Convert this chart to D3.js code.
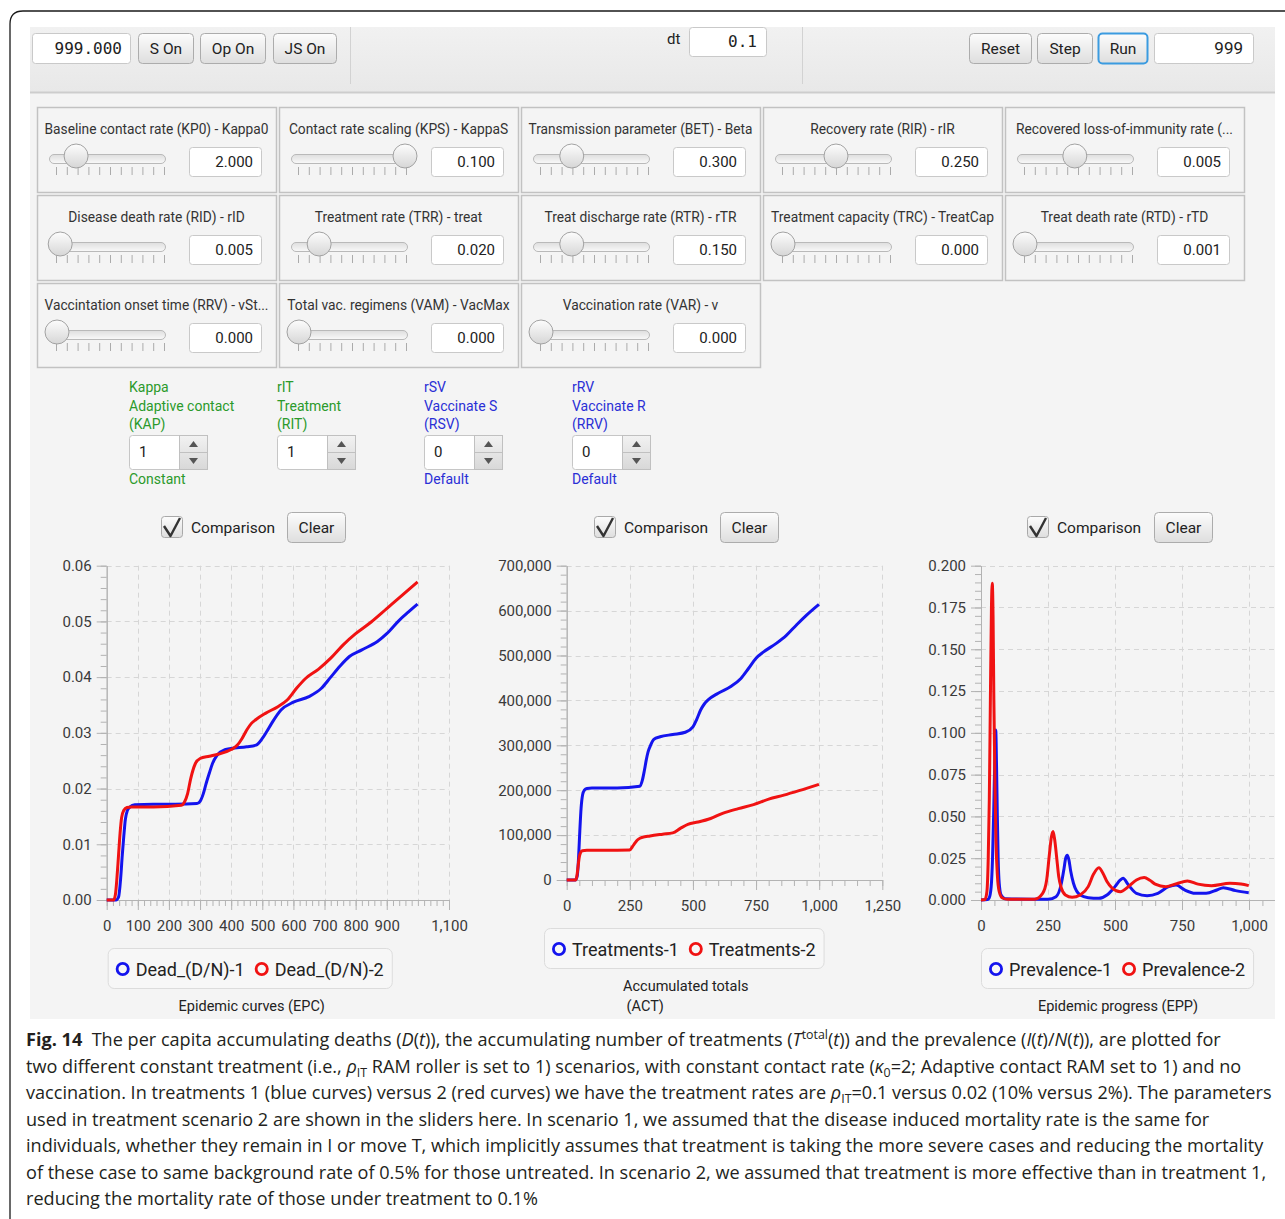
<!DOCTYPE html>
<html><head><meta charset="utf-8">
<script src="https://cdn.jsdelivr.net/npm/d3@7"></script>
<style>body{margin:0;background:#fff}svg{display:block}text{white-space:pre}</style>
</head><body>
<svg id="c" width="1285" height="1219"></svg>
<script>
// ---------------- DATA ----------------
const timeValue = "999.000", dtValue = "0.1", endValue = "999";
const leftButtons = ["S On", "Op On", "JS On"];
const rightButtons = ["Reset", "Step", "Run"];

const sliderTitles = [
  "Baseline contact rate (KP0) - Kappa0", "Contact rate scaling (KPS) - KappaS", "Transmission parameter (BET) - Beta", "Recovery rate (RIR) - rIR", "Recovered loss-of-immunity rate (...",
  "Disease death rate (RID) - rID", "Treatment rate (TRR) - treat", "Treat discharge rate (RTR) - rTR", "Treatment capacity (TRC) - TreatCap", "Treat death rate (RTD) - rTD",
  "Vaccintation onset time (RRV) - vSt...", "Total vac. regimens (VAM) - VacMax", "Vaccination rate (VAR) - v"];
const sliderValues = ["2.000", "0.100", "0.300", "0.250", "0.005", "0.005", "0.020", "0.150", "0.000", "0.001", "0.000", "0.000", "0.000"];
const sliderKnobs = [0.18, 1.0, 0.29, 0.50, 0.47, 0.03, 0.19, 0.29, 0, 0, 0, 0, 0];

const spinnerTop = ["Kappa", "rIT", "rSV", "rRV"];
const spinnerMid = ["Adaptive contact", "Treatment", "Vaccinate S", "Vaccinate R"];
const spinnerCode = ["(KAP)", "(RIT)", "(RSV)", "(RRV)"];
const spinnerValues = ["1", "1", "0", "0"];
const spinnerBottom = ["Constant", "", "Default", "Default"];
const spinnerKind = ["green", "green", "blue", "blue"];

// Chart 1 : Dead (D/N)
const deadT1 = [0, 30, 38, 45, 50, 55, 60, 66, 75, 90, 150, 220, 290, 300, 310, 320, 330, 340, 355, 380, 400, 450, 480, 500, 515, 530, 560, 600, 650, 690, 720, 750, 780, 820, 870, 900, 940, 970, 999];
const deadV1 = [0, 0, 0.0005, 0.004, 0.008, 0.0115, 0.0145, 0.016, 0.0167, 0.0171, 0.0172, 0.0172, 0.0173, 0.0177, 0.019, 0.021, 0.0228, 0.0245, 0.026, 0.027, 0.0272, 0.0275, 0.0278, 0.029, 0.0303, 0.0317, 0.0341, 0.0355, 0.0365, 0.038, 0.040, 0.042, 0.0437, 0.0449, 0.0464, 0.0478, 0.0502, 0.0517, 0.0531];
const deadT2 = [0, 22, 28, 33, 38, 43, 48, 55, 65, 80, 150, 240, 250, 260, 270, 285, 300, 330, 360, 400, 420, 435, 450, 465, 480, 510, 550, 580, 610, 640, 680, 720, 760, 800, 850, 900, 950, 999];
const deadV2 = [0, 0, 0.001, 0.004, 0.008, 0.012, 0.0148, 0.0161, 0.0166, 0.0167, 0.0167, 0.0170, 0.0176, 0.0191, 0.0218, 0.0245, 0.0254, 0.0258, 0.0262, 0.027, 0.0278, 0.029, 0.0305, 0.0317, 0.0324, 0.0335, 0.0347, 0.0359, 0.038, 0.0398, 0.0414, 0.0434, 0.0458, 0.0478, 0.0499, 0.0523, 0.0547, 0.0571];

// Chart 2 : Treatments
const treatT1 = [0, 35, 42, 47, 52, 57, 63, 70, 80, 100, 200, 290, 300, 308, 315, 322, 330, 345, 370, 420, 470, 500, 515, 530, 545, 560, 600, 650, 690, 720, 750, 780, 830, 870, 910, 950, 999];
const treatV1 = [0, 0, 10000, 50000, 110000, 160000, 190000, 200000, 204000, 205000, 205000, 209000, 223000, 245000, 267000, 285000, 297000, 313000, 319000, 324000, 329000, 341000, 358000, 378000, 392000, 401000, 416000, 431000, 449000, 471000, 494000, 508000, 527000, 545000, 568000, 590000, 614000];
const treatT2 = [0, 35, 40, 45, 50, 55, 62, 80, 150, 250, 260, 270, 280, 290, 300, 330, 380, 420, 450, 480, 520, 570, 620, 680, 740, 800, 860, 920, 999];
const treatV2 = [0, 0, 8000, 30000, 52000, 61000, 65000, 66000, 66000, 67000, 74000, 82000, 89000, 93000, 95000, 98000, 102000, 105000, 115000, 124000, 129000, 137000, 149000, 159000, 168000, 180000, 189000, 199000, 213000];

// Chart 3 : Prevalence
const prevT1 = [0, 25, 30, 38, 43, 47, 51, 55, 58, 61, 64, 68, 75, 90, 250, 280, 300, 310, 316, 322, 328, 335, 345, 370, 400, 440, 470, 500, 520, 530, 550, 580, 620, 660, 700, 728, 760, 800, 840, 880, 904, 950, 999];
const prevV1 = [0, 0.0003, 0.001, 0.008, 0.025, 0.05, 0.08, 0.1017, 0.08, 0.05, 0.025, 0.01, 0.003, 0.0008, 0.0004, 0.002, 0.010, 0.019, 0.025, 0.0267, 0.024, 0.017, 0.010, 0.003, 0.0014, 0.001, 0.003, 0.008, 0.012, 0.013, 0.009, 0.004, 0.0026, 0.004, 0.008, 0.009, 0.006, 0.004, 0.004, 0.006, 0.0074, 0.0056, 0.0044];
const prevT2 = [0, 15, 22, 27, 31, 35, 39, 42, 45, 48, 52, 56, 61, 68, 80, 100, 200, 230, 245, 255, 263, 269, 275, 282, 290, 300, 315, 340, 370, 400, 420, 440, 455, 470, 490, 520, 550, 580, 609, 630, 650, 690, 730, 770, 810, 860, 929, 970, 999];
const prevV2 = [0, 0.0003, 0.005, 0.025, 0.06, 0.12, 0.175, 0.1895, 0.17, 0.12, 0.07, 0.035, 0.015, 0.005, 0.0012, 0.0004, 0.0005, 0.004, 0.012, 0.027, 0.038, 0.041, 0.036, 0.026, 0.014, 0.007, 0.003, 0.0016, 0.003, 0.008, 0.0155, 0.0193, 0.016, 0.011, 0.007, 0.005, 0.008, 0.012, 0.0134, 0.0118, 0.0095, 0.008, 0.0098, 0.0114, 0.0095, 0.0086, 0.010, 0.0096, 0.0086];

const legend1 = ["Dead_(D/N)-1", "Dead_(D/N)-2"];
const legend2 = ["Treatments-1", "Treatments-2"];
const legend3 = ["Prevalence-1", "Prevalence-2"];
const title1 = ["Epidemic curves (EPC)"];
const title2 = ["Accumulated totals", " (ACT)"];
const title3 = ["Epidemic progress (EPP)"];

const xTicks1 = [0, 100, 200, 300, 400, 500, 600, 700, 800, 900, 1100];
const xGrid1 = [100, 200, 300, 400, 500, 600, 700, 800, 900, 1000, 1100];
const yTicks1 = [0, 0.01, 0.02, 0.03, 0.04, 0.05, 0.06];
const xTicks2 = [0, 250, 500, 750, 1000, 1250];
const yTicks2 = [0, 100000, 200000, 300000, 400000, 500000, 600000, 700000];
const xTicks3 = [0, 250, 500, 750, 1000];
const yTicks3 = [0, 0.025, 0.05, 0.075, 0.1, 0.125, 0.15, 0.175, 0.2];

const captionLines = [
  [["Fig. 14", "b"], ["  The per capita accumulating deaths (", ""], ["D", "i"], ["(", ""], ["t", "i"], [")), the accumulating number of treatments (", ""], ["T", "i"], ["total", "sup"], ["(", ""], ["t", "i"], [")) and the prevalence (", ""], ["I", "i"], ["(", ""], ["t", "i"], [")/", ""], ["N", "i"], ["(", ""], ["t", "i"], [")), are plotted for", ""]],
  [["two different constant treatment (i.e., ", ""], ["ρ", "i"], ["IT", "sub"], [" RAM roller is set to 1) scenarios, with constant contact rate (", ""], ["κ", "i"], ["0", "sub"], ["=2; Adaptive contact RAM set to 1) and no", ""]],
  [["vaccination. In treatments 1 (blue curves) versus 2 (red curves) we have the treatment rates are ", ""], ["ρ", "i"], ["IT", "sub"], ["=0.1 versus 0.02 (10% versus 2%). The parameters", ""]],
  [["used in treatment scenario 2 are shown in the sliders here. In scenario 1, we assumed that the disease induced mortality rate is the same for", ""]],
  [["individuals, whether they remain in I or move T, which implicitly assumes that treatment is taking the more severe cases and reducing the mortality", ""]],
  [["of these case to same background rate of 0.5% for those untreated. In scenario 2, we assumed that treatment is more effective than in treatment 1,", ""]],
  [["reducing the mortality rate of those under treatment to 0.1%", ""]]
];

// ---------------- DRAWING ----------------
const UI = "Roboto, 'Liberation Sans', sans-serif";
const MONO = "'DejaVu Sans Mono', 'Liberation Mono', monospace";
const BLUE = "#1414ee", RED = "#f01212";
const GREEN_T = "#2b9a2b", BLUE_T = "#2a2fd6";
const svg = d3.select("#c");
const defs = svg.append("defs");
function grad(id, a, b) {
  const g = defs.append("linearGradient").attr("id", id).attr("x1", 0).attr("y1", 0).attr("x2", 0).attr("y2", 1);
  g.append("stop").attr("offset", "0%").attr("stop-color", a);
  g.append("stop").attr("offset", "100%").attr("stop-color", b);
}
grad("btnG", "#fcfcfc", "#dedede");
grad("knobG", "#fdfdfd", "#d6d6d6");
grad("trackG", "#dedede", "#f9f9f9");
grad("tbG", "#f1f1f1", "#e8e8e8");
grad("spinG", "#f2f2f2", "#d8d8d8");

// frame + panel
svg.append("rect").attr("x", 30).attr("y", 27).attr("width", 1245).attr("height", 992).attr("fill", "#f4f4f4");
svg.append("path").attr("d", "M1285,11 H23 Q10,11 10,24 V1219").attr("fill", "none").attr("stroke", "#1a1a1a").attr("stroke-width", 1.3);

function button(x, y, w, h, label, focus) {
  svg.append("rect").attr("x", x + .5).attr("y", y + .5).attr("width", w).attr("height", h).attr("rx", 4)
    .attr("fill", "url(#btnG)").attr("stroke", focus ? "#3b9be0" : "#acacac").attr("stroke-width", focus ? 2 : 1);
  svg.append("text").attr("x", x + w / 2 + .5).attr("y", y + h / 2 + 5.5).attr("text-anchor", "middle")
    .attr("font-family", UI).attr("font-size", 15.5).attr("fill", "#222").text(label);
}
function field(x, y, w, h, txt, font, size, pad) {
  svg.append("rect").attr("x", x + .5).attr("y", y + .5).attr("width", w).attr("height", h).attr("rx", 3)
    .attr("fill", "#fff").attr("stroke", "#c9c9c9");
  svg.append("text").attr("x", x + w - (pad || 9)).attr("y", y + h / 2 + 5.5).attr("text-anchor", "end")
    .attr("font-family", font).attr("font-size", size).attr("fill", "#222").text(txt);
}

// toolbar
svg.append("rect").attr("x", 30).attr("y", 27).attr("width", 1245).attr("height", 65).attr("fill", "url(#tbG)");
svg.append("line").attr("x1", 30).attr("x2", 1275).attr("y1", 92.5).attr("y2", 92.5).attr("stroke", "#cdcdcd").attr("stroke-width", 2);
[350.5, 802.5].forEach(x => svg.append("line").attr("x1", x).attr("x2", x).attr("y1", 27).attr("y2", 84).attr("stroke", "#d2d2d2"));
field(32, 33, 98, 30, timeValue, MONO, 16, 8);
const lbx = [138, 200, 273], lbw = [55, 65, 63];
leftButtons.forEach((b, i) => button(lbx[i], 33, lbw[i], 30, b, false));
svg.append("text").attr("x", 667).attr("y", 44).attr("font-family", UI).attr("font-size", 15).attr("fill", "#222").text("dt");
field(689, 27, 77, 29, dtValue, MONO, 16, 9);
const rbx = [969, 1037, 1098], rbw = [62, 55, 49];
rightButtons.forEach((b, i) => button(rbx[i], 33, rbw[i], 30, b, b === "Run"));
field(1154, 33, 99, 30, endValue, UI, 17, 10);

// slider panels
const colX = [37, 279, 521, 763, 1005], rowY = [107, 195, 283];
sliderTitles.forEach((t, i) => {
  const px = colX[i % 5], py = rowY[Math.floor(i / 5)], h = i >= 10 ? 84 : 85;
  svg.append("rect").attr("x", px + .5).attr("y", py + .5).attr("width", 239).attr("height", h)
    .attr("fill", "#f4f4f4").attr("stroke", "#c2c2c2").attr("stroke-width", 1.5);
  const tt = svg.append("text").attr("x", px + 119.5).attr("y", py + 27).attr("text-anchor", "middle")
    .attr("font-family", UI).attr("font-size", 13.8).attr("fill", "#333").text(t);
  const w = tt.node().getComputedTextLength();
  if (w > 224) tt.attr("textLength", 224).attr("lengthAdjust", "spacingAndGlyphs");
  svg.append("rect").attr("x", px + 12.5).attr("y", py + 47.5).attr("width", 116).attr("height", 9).attr("rx", 4.5)
    .attr("fill", "url(#trackG)").attr("stroke", "#b9b9b9");
  d3.range(11).forEach(k => {
    const tx = px + 19.5 + k * 10.8;
    svg.append("line").attr("x1", tx).attr("x2", tx).attr("y1", py + 60).attr("y2", py + 68).attr("stroke", "#ababab");
  });
  const kx = px + 20 + sliderKnobs[i] * 106;
  svg.append("circle").attr("cx", kx).attr("cy", py + 49).attr("r", 12).attr("fill", "url(#knobG)").attr("stroke", "#a2a2a2");
  field(px + 152, py + 40, 72, 29, sliderValues[i], UI, 15, 8);
});

// spinners
const spX = [129, 277, 424, 572];
spinnerTop.forEach((t, i) => {
  const x = spX[i], col = spinnerKind[i] === "green" ? GREEN_T : BLUE_T;
  [[t, 392], [spinnerMid[i], 411], [spinnerCode[i], 429], [spinnerBottom[i], 484]].forEach(([s, y]) => {
    if (s) svg.append("text").attr("x", x).attr("y", y).attr("font-family", UI).attr("font-size", 14).attr("fill", col).text(s);
  });
  svg.append("rect").attr("x", x + .5).attr("y", 435.5).attr("width", 78).attr("height", 34).attr("rx", 3).attr("fill", "#fff").attr("stroke", "#c6c6c6");
  svg.append("rect").attr("x", x + 50.5).attr("y", 435.5).attr("width", 28).attr("height", 34).attr("fill", "url(#spinG)").attr("stroke", "#c0c0c0");
  svg.append("line").attr("x1", x + 50.5).attr("x2", x + 78.5).attr("y1", 452.5).attr("y2", 452.5).attr("stroke", "#c0c0c0");
  svg.append("path").attr("d", `M${x + 60},${447} L${x + 69},${447} L${x + 64.5},${441} Z`).attr("fill", "#555");
  svg.append("path").attr("d", `M${x + 60},${458} L${x + 69},${458} L${x + 64.5},${464} Z`).attr("fill", "#555");
  svg.append("text").attr("x", x + 10).attr("y", 457).attr("font-family", UI).attr("font-size", 15).attr("fill", "#222").text(spinnerValues[i]);
});

// chart headers
[[161, 287], [594, 720], [1027, 1154]].forEach(([cx, bx]) => {
  svg.append("rect").attr("x", cx + .5).attr("y", 516.5).attr("width", 21).attr("height", 21).attr("rx", 3).attr("fill", "url(#btnG)").attr("stroke", "#a9a9a9");
  svg.append("path").attr("d", `M${cx + 3},526 L${cx + 9.5},536 L${cx + 19},518`).attr("fill", "none").attr("stroke", "#333").attr("stroke-width", 2.4).attr("stroke-linejoin", "round");
  svg.append("text").attr("x", cx + 30).attr("y", 533).attr("font-family", UI).attr("font-size", 15.5).attr("fill", "#222").text("Comparison");
  button(bx, 512, 58, 30, "Clear", false);
});

function drawChart(c) {
  const x = d3.scaleLinear().domain(c.xDom).range([c.left, c.right]);
  const y = d3.scaleLinear().domain(c.yDom).range([c.bottom, c.top]);
  const clipId = "clip" + c.id;
  defs.append("clipPath").attr("id", clipId).append("rect").attr("x", c.left - 90).attr("y", c.top - 15)
    .attr("width", c.clipRight - c.left + 90).attr("height", c.bottom - c.top + 50);
  const g = svg.append("g").attr("clip-path", `url(#${clipId})`);
  const gridR = c.gridRight;
  g.append("g").selectAll("line").data(c.yTicks.filter(v => v !== c.yDom[0])).join("line")
    .attr("x1", c.left).attr("x2", gridR).attr("y1", d => Math.round(y(d)) + .5).attr("y2", d => Math.round(y(d)) + .5)
    .attr("stroke", "#d6d6d6").attr("stroke-dasharray", "5,4");
  g.append("g").selectAll("line").data(c.xGrid).join("line")
    .attr("x1", d => Math.round(x(d)) + .5).attr("x2", d => Math.round(x(d)) + .5).attr("y1", c.top).attr("y2", c.bottom)
    .attr("stroke", "#d6d6d6").attr("stroke-dasharray", "5,4");
  const style = sel => {
    sel.selectAll("line").attr("stroke", "#b3b3b3");
    sel.select(".domain").attr("stroke", "#b3b3b3");
    sel.selectAll("text").attr("font-family", UI).attr("font-size", 15).attr("fill", "#3a3a3a");
  };
  g.append("g").attr("transform", `translate(${c.left},0)`)
    .call(d3.axisLeft(y).tickValues(c.yMinor).tickSize(6).tickSizeOuter(0).tickFormat("")).call(style);
  g.append("g").attr("transform", `translate(${c.left},0)`)
    .call(d3.axisLeft(y).tickValues(c.yTicks).tickSize(10).tickSizeOuter(0).tickPadding(5).tickFormat(c.yFmt)).call(style);
  g.append("g").attr("transform", `translate(0,${c.bottom})`)
    .call(d3.axisBottom(x).tickValues(c.xMinor).tickSize(6).tickSizeOuter(0).tickFormat("")).call(style);
  g.append("g").attr("transform", `translate(0,${c.bottom})`)
    .call(d3.axisBottom(x).tickValues(c.xTicks).tickSize(10).tickSizeOuter(0).tickPadding(10).tickFormat(d3.format(","))).call(style);
  const line = d3.line().x(d => x(d[0])).y(d => y(d[1])).curve(d3.curveMonotoneX);
  c.series.forEach(s => {
    g.append("path").datum(s.t.map((t, k) => [t, s.v[k]])).attr("d", line)
      .attr("fill", "none").attr("stroke", s.color).attr("stroke-width", 3).attr("stroke-linejoin", "round");
  });
  // legend
  const L = c.legend, lg = svg.append("g");
  const box = lg.append("rect").attr("x", L.x + .5).attr("y", L.y + .5).attr("height", 40).attr("rx", 6)
    .attr("fill", "#f7f7f7").attr("stroke", "#dcdcdc");
  let cx = L.x + 15;
  L.labels.forEach((lab, k) => {
    lg.append("circle").attr("cx", cx).attr("cy", L.y + 21).attr("r", 5.6).attr("fill", "none")
      .attr("stroke", k ? RED : BLUE).attr("stroke-width", 2.8);
    const t = lg.append("text").attr("x", cx + 13).attr("y", L.y + 27.5).attr("font-family", UI).attr("font-size", 18).attr("fill", "#222").text(lab);
    cx = cx + 13 + t.node().getComputedTextLength() + 17;
  });
  box.attr("width", cx - 17 + 8 - L.x);
  c.title.forEach((tl, k) => {
    svg.append("text").attr("x", c.titleX).attr("y", 1011 - (c.title.length - 1 - k) * 20)
      .attr("text-anchor", c.titleAnchor).attr("font-family", UI).attr("font-size", 14.5).attr("fill", "#222").text(tl);
  });
}

drawChart({
  id: 1, xDom: [0, 1100], yDom: [0, 0.06], left: 106.7, right: 449, top: 565.7, bottom: 900, clipRight: 480, gridRight: 449,
  xTicks: xTicks1, xGrid: xGrid1, xMinor: d3.range(0, 1101, 20), yTicks: yTicks1, yMinor: d3.range(0, 0.0601, 0.002), yFmt: d3.format(".2f"),
  series: [{ t: deadT1, v: deadV1, color: BLUE }, { t: deadT2, v: deadV2, color: RED }],
  legend: { x: 107.7, y: 948, labels: legend1 }, title: title1, titleX: 251.7, titleAnchor: "middle"
});
drawChart({
  id: 2, xDom: [0, 1250], yDom: [0, 700000], left: 566.7, right: 882.3, top: 565.7, bottom: 880, clipRight: 915, gridRight: 882.3,
  xTicks: xTicks2, xGrid: xTicks2.slice(1), xMinor: d3.range(0, 1251, 50), yTicks: yTicks2, yMinor: d3.range(0, 700001, 20000), yFmt: d3.format(","),
  series: [{ t: treatT1, v: treatV1, color: BLUE }, { t: treatT2, v: treatV2, color: RED }],
  legend: { x: 544, y: 928, labels: legend2 }, title: title2, titleX: 623, titleAnchor: "start"
});
drawChart({
  id: 3, xDom: [0, 1100], yDom: [0, 0.2], left: 981, right: 981 + 1100 * 0.268, top: 565.7, bottom: 900, clipRight: 1275, gridRight: 1275,
  xTicks: xTicks3, xGrid: xTicks3.slice(1), xMinor: d3.range(0, 1101, 50), yTicks: yTicks3, yMinor: d3.range(0, 0.2001, 0.005), yFmt: d3.format(".3f"),
  series: [{ t: prevT1, v: prevV1, color: BLUE }, { t: prevT2, v: prevV2, color: RED }],
  legend: { x: 981, y: 948, labels: legend3 }, title: title3, titleX: 1118, titleAnchor: "middle"
});

// caption
const CAP = "'Open Sans', 'Noto Sans', sans-serif";
const capGroups = captionLines.map((segs, li) => {
  const g = svg.append("g");
  const t = g.append("text").attr("x", 0).attr("y", 0).attr("font-family", CAP).attr("font-size", 17.5).attr("fill", "#231f20");
  let shift = 0;
  segs.forEach(([s, st]) => {
    const sp = t.append("tspan").text(s);
    let target = 0;
    if (st === "b") sp.attr("font-weight", "bold");
    if (st === "i") sp.attr("font-style", "italic");
    if (st === "sub") { sp.attr("font-size", 12); target = 4; }
    if (st === "sup") { sp.attr("font-size", 12); target = -7; }
    if (target !== shift) { sp.attr("dy", target - shift); shift = target; }
  });
  if (shift !== 0) t.append("tspan").attr("dy", -shift).text("");
  return { g, t, li };
});
const w3 = capGroups[2].t.node().getComputedTextLength();
const sc = (1272 - 26) / w3;
capGroups.forEach(({ g, li }) => g.attr("transform", `translate(26,${1046 + li * 26.5}) scale(${sc},1)`));
</script>
</body></html>
